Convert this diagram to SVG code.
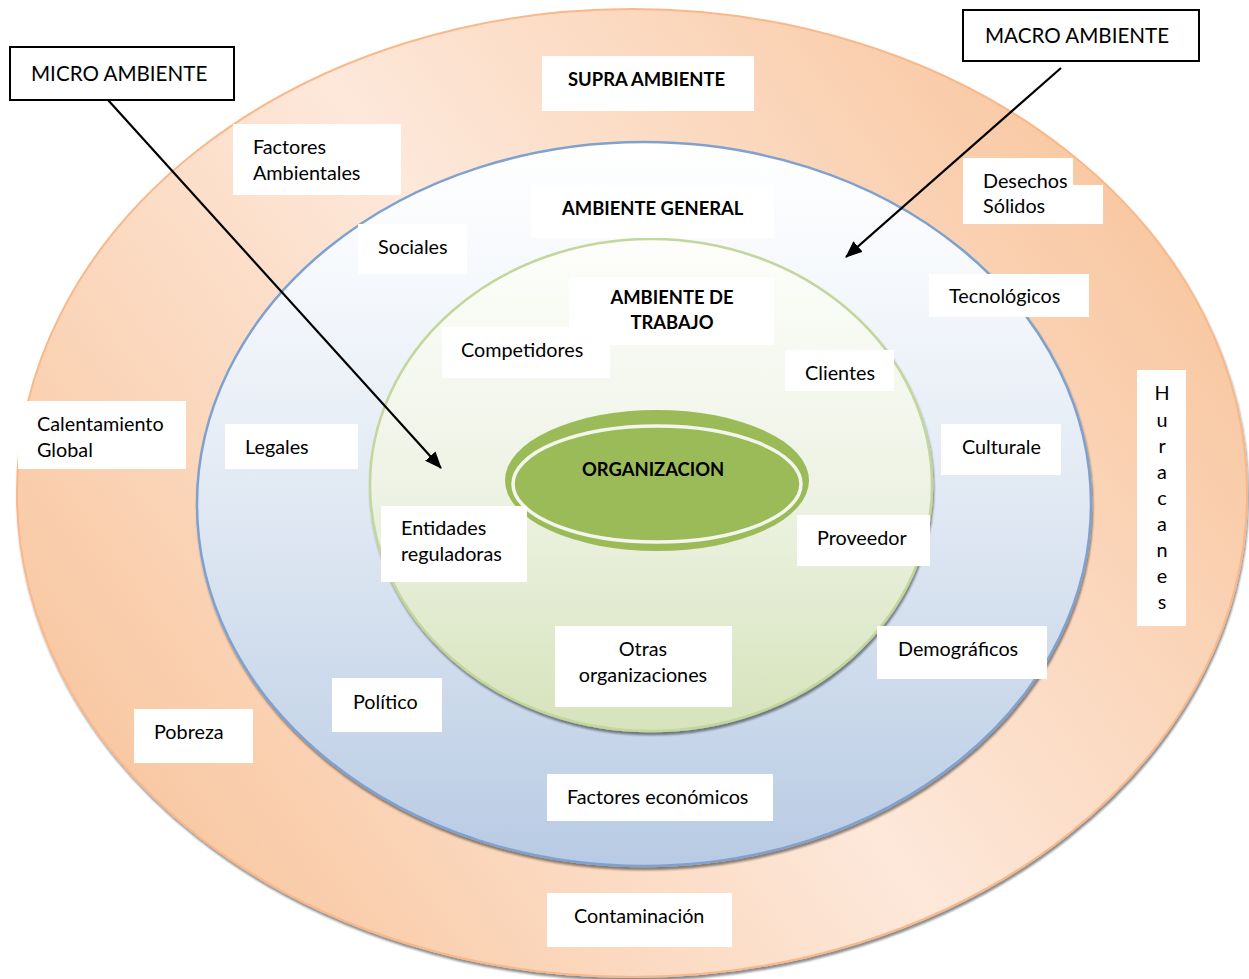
<svg xmlns="http://www.w3.org/2000/svg" width="1249" height="979" viewBox="0 0 1249 979">
  <defs>
    <linearGradient id="gradSupra" gradientUnits="userSpaceOnUse" x1="70" y1="900" x2="1190" y2="90">
      <stop offset="0" stop-color="#f8c298"/>
      <stop offset="0.5" stop-color="#fde8da"/>
      <stop offset="1" stop-color="#f8c298"/>
    </linearGradient>
    <linearGradient id="gradGeneral" gradientUnits="userSpaceOnUse" x1="0" y1="142" x2="0" y2="866">
      <stop offset="0" stop-color="#ffffff"/>
      <stop offset="0.2" stop-color="#f5f8fc"/>
      <stop offset="0.6" stop-color="#d9e3f0"/>
      <stop offset="1" stop-color="#b8cbe4"/>
    </linearGradient>
    <linearGradient id="gradTrabajo" gradientUnits="userSpaceOnUse" x1="0" y1="239" x2="0" y2="731">
      <stop offset="0" stop-color="#fdfefb"/>
      <stop offset="0.5" stop-color="#eef3e5"/>
      <stop offset="1" stop-color="#d6e3bb"/>
    </linearGradient>
    <filter id="shadow" x="-5%" y="-5%" width="110%" height="112%">
      <feGaussianBlur in="SourceAlpha" stdDeviation="1.2"/>
      <feOffset dx="0.5" dy="2.5" result="off"/>
      <feComponentTransfer>
        <feFuncA type="linear" slope="0.45"/>
      </feComponentTransfer>
      <feMerge>
        <feMergeNode/>
        <feMergeNode in="SourceGraphic"/>
      </feMerge>
    </filter>
    <marker id="arrow" markerUnits="userSpaceOnUse" markerWidth="18" markerHeight="14" refX="16" refY="7" orient="auto">
      <path d="M0,0 L17,7 L0,14 Z" fill="#000"/>
    </marker>
    <style>
      .box { fill: #ffffff; }
      .callout { fill: #ffffff; stroke: #000000; stroke-width: 2; }
      .t { font-family: Lato, "Open Sans", "Liberation Sans", sans-serif; font-size: 19.8px; fill: #000000; }
      .b { font-family: Lato, "Open Sans", "Liberation Sans", sans-serif; font-size: 18.4px; font-weight: bold; fill: #000000; }
      .big { font-size: 20.6px; }
      .mid { text-anchor: middle; }
      .conn { stroke: #000000; stroke-width: 2.2; fill: none; marker-end: url(#arrow); }
    </style>
  </defs>

  <!-- concentric environments -->
  <g id="rings">
    <ellipse id="supra-ring" cx="632" cy="493" rx="615" ry="484" fill="url(#gradSupra)" stroke="#f9b88a" stroke-width="2" filter="url(#shadow)"/>
    <ellipse id="general-ring" cx="644" cy="504" rx="447" ry="362" fill="url(#gradGeneral)" stroke="#7fa1d0" stroke-width="2.5" filter="url(#shadow)"/>
    <ellipse id="trabajo-ring" cx="651" cy="485" rx="281" ry="246" fill="url(#gradTrabajo)" stroke="#c3d69b" stroke-width="2.5" filter="url(#shadow)"/>
  </g>

  <!-- organization core -->
  <g id="organizacion">
    <ellipse cx="657" cy="480.5" rx="152" ry="70.5" fill="#9bbb59"/>
    <ellipse cx="657" cy="484" rx="144" ry="58" fill="#9bbb59" stroke="#f3f6ec" stroke-width="3.5"/>
    <text class="b" x="582" y="476">ORGANIZACION</text>
  </g>

  <!-- ring titles -->
  <g id="supra-ambiente">
    <rect class="box" x="542" y="56" width="212" height="55"/>
    <text class="b" x="568" y="86">SUPRA AMBIENTE</text>
  </g>
  <g id="ambiente-general">
    <rect class="box" x="531" y="185" width="243" height="53"/>
    <text class="b" x="562" y="215">AMBIENTE GENERAL</text>
  </g>
  <g id="ambiente-trabajo">
    <rect class="box" x="569" y="277" width="205" height="68"/>
    <text class="b mid" x="672" y="304">AMBIENTE DE</text>
    <text class="b mid" x="672" y="329">TRABAJO</text>
  </g>

  <!-- supra environment factors -->
  <g id="factores-ambientales">
    <rect class="box" x="233" y="124" width="168" height="71"/>
    <text class="t" x="253" y="154">Factores</text>
    <text class="t" x="253" y="180">Ambientales</text>
  </g>
  <g id="desechos-solidos">
    <rect class="box" x="963" y="158" width="110" height="66"/>
    <rect class="box" x="963" y="185" width="140" height="39"/>
    <text class="t" x="983" y="188">Desechos</text>
    <text class="t" x="983" y="213">Sólidos</text>
  </g>
  <g id="calentamiento-global">
    <rect class="box" x="18" y="401" width="168" height="68"/>
    <text class="t" x="37" y="431">Calentamiento</text>
    <text class="t" x="37" y="457">Global</text>
  </g>
  <g id="huracanes">
    <rect class="box" x="1137" y="370" width="49" height="256"/>
    <text class="t mid" x="1162" y="400">H</text>
    <text class="t mid" x="1162" y="427">u</text>
    <text class="t mid" x="1162" y="453">r</text>
    <text class="t mid" x="1162" y="479">a</text>
    <text class="t mid" x="1162" y="505">c</text>
    <text class="t mid" x="1162" y="531">a</text>
    <text class="t mid" x="1162" y="557">n</text>
    <text class="t mid" x="1162" y="583">e</text>
    <text class="t mid" x="1162" y="609">s</text>
  </g>
  <g id="pobreza">
    <rect class="box" x="134" y="709" width="119" height="54"/>
    <text class="t" x="154" y="739">Pobreza</text>
  </g>
  <g id="contaminacion">
    <rect class="box" x="547" y="893" width="185" height="54"/>
    <text class="t" x="574" y="923">Contaminación</text>
  </g>

  <!-- general environment factors -->
  <g id="sociales">
    <rect class="box" x="358" y="224" width="109" height="50"/>
    <text class="t" x="378" y="254">Sociales</text>
  </g>
  <g id="tecnologicos">
    <rect class="box" x="929" y="274" width="160" height="43"/>
    <text class="t" x="949" y="303">Tecnológicos</text>
  </g>
  <g id="legales">
    <rect class="box" x="225" y="424" width="133" height="45"/>
    <text class="t" x="245" y="454">Legales</text>
  </g>
  <g id="culturale">
    <rect class="box" x="941" y="424" width="120" height="51"/>
    <text class="t" x="962" y="454">Culturale</text>
  </g>
  <g id="demograficos">
    <rect class="box" x="877" y="626" width="170" height="53"/>
    <text class="t" x="898" y="656">Demográficos</text>
  </g>
  <g id="politico">
    <rect class="box" x="332" y="678" width="110" height="54"/>
    <text class="t" x="353" y="709">Político</text>
  </g>
  <g id="factores-economicos">
    <rect class="box" x="547" y="774" width="226" height="47"/>
    <text class="t" x="567" y="804">Factores económicos</text>
  </g>

  <!-- task environment factors -->
  <g id="competidores">
    <rect class="box" x="442" y="327" width="168" height="51"/>
    <text class="t" x="461" y="357">Competidores</text>
  </g>
  <g id="clientes">
    <rect class="box" x="785" y="350" width="109" height="41"/>
    <text class="t" x="805" y="380">Clientes</text>
  </g>
  <g id="entidades-reguladoras">
    <rect class="box" x="381" y="506" width="146" height="76"/>
    <text class="t" x="401" y="535">Entidades</text>
    <text class="t" x="401" y="561">reguladoras</text>
  </g>
  <g id="proveedor">
    <rect class="box" x="797" y="515" width="133" height="51"/>
    <text class="t" x="817" y="545">Proveedor</text>
  </g>
  <g id="otras-organizaciones">
    <rect class="box" x="555" y="626" width="177" height="81"/>
    <text class="t mid" x="643" y="656">Otras</text>
    <text class="t mid" x="643" y="682">organizaciones</text>
  </g>

  <!-- callout labels -->
  <g id="micro-ambiente">
    <rect class="callout" x="10" y="47" width="224" height="53"/>
    <text class="t big" x="31" y="81">MICRO AMBIENTE</text>
  </g>
  <g id="macro-ambiente">
    <rect class="callout" x="963" y="10" width="236" height="51"/>
    <text class="t big" x="985" y="43">MACRO AMBIENTE</text>
  </g>

  <!-- pointer arrows -->
  <g id="connectors">
    <line class="conn" x1="108" y1="100" x2="441" y2="468"/>
    <line class="conn" x1="1061" y1="68" x2="846" y2="257"/>
  </g>
</svg>
